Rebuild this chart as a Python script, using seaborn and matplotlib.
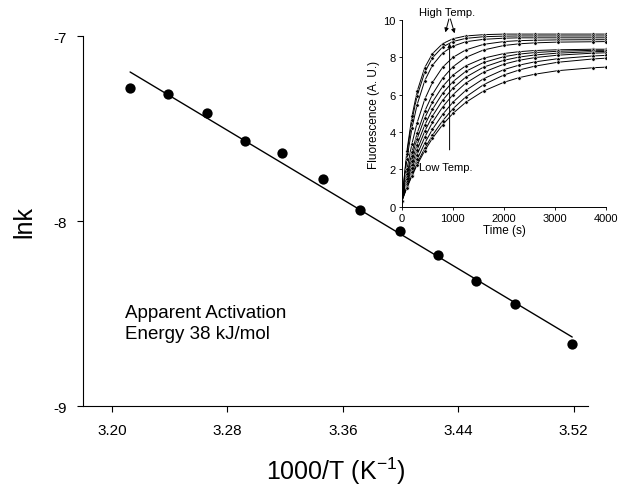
import numpy as np
import pandas as pd
import matplotlib
matplotlib.use("Agg")
import matplotlib.pyplot as plt
import seaborn as sns

# Arrhenius points
inv_T = [3.2125, 3.2388, 3.2658, 3.292, 3.318, 3.346, 3.372, 3.3995, 3.4258, 3.452, 3.479, 3.519]
lnk = [-7.281, -7.314, -7.416, -7.568, -7.632, -7.773, -7.941, -8.054, -8.184, -8.324, -8.449, -8.665]

# fluorescence traces in the inset (one list per temperature, high -> low)
times = [0, 100, 200, 300, 450, 600, 800, 1000, 1250, 1600, 2000, 2300, 2600, 3050, 3750, 4000]
traces = [
    [0.3, 2.99, 4.86, 6.18, 7.46, 8.20, 8.74, 9.00, 9.15, 9.22, 9.25, 9.25, 9.25, 9.25, 9.25, 9.25],
    [0.3, 2.84, 4.65, 5.94, 7.21, 7.98, 8.56, 8.85, 9.02, 9.11, 9.14, 9.15, 9.15, 9.15, 9.15, 9.15],
    [0.3, 2.56, 4.23, 5.47, 6.76, 7.58, 8.24, 8.60, 8.84, 8.97, 9.03, 9.05, 9.05, 9.05, 9.05, 9.05],
    [0.3, 2.01, 3.39, 4.50, 5.76, 6.66, 7.48, 8.00, 8.40, 8.70, 8.85, 8.90, 8.92, 8.94, 8.95, 8.95],
    [0.3, 1.74, 2.94, 3.93, 5.12, 6.02, 6.89, 7.50, 8.00, 8.40, 8.64, 8.73, 8.78, 8.82, 8.84, 8.85],
    [0.3, 1.61, 2.72, 3.64, 4.76, 5.61, 6.45, 7.05, 7.55, 7.96, 8.21, 8.31, 8.37, 8.41, 8.44, 8.44],
    [0.3, 1.47, 2.47, 3.33, 4.38, 5.22, 6.08, 6.70, 7.25, 7.73, 8.04, 8.18, 8.26, 8.33, 8.38, 8.38],
    [0.3, 1.35, 2.26, 3.05, 4.05, 4.86, 5.71, 6.35, 6.94, 7.48, 7.85, 8.02, 8.13, 8.23, 8.31, 8.32],
    [0.3, 1.24, 2.07, 2.80, 3.73, 4.52, 5.35, 6.00, 6.62, 7.21, 7.64, 7.85, 7.99, 8.12, 8.23, 8.25],
    [0.3, 1.13, 1.87, 2.54, 3.41, 4.15, 4.95, 5.60, 6.23, 6.86, 7.35, 7.59, 7.76, 7.93, 8.08, 8.11],
    [0.3, 1.05, 1.72, 2.34, 3.14, 3.83, 4.61, 5.25, 5.88, 6.54, 7.06, 7.33, 7.53, 7.74, 7.92, 7.96],
    [0.3, 1.02, 1.66, 2.24, 3.01, 3.67, 4.40, 5.00, 5.59, 6.20, 6.67, 6.92, 7.10, 7.29, 7.45, 7.48],
]

sns.set_style("ticks")
plt.rcParams['font.family'] = ['Liberation Sans', 'DejaVu Sans']
plt.rcParams['mathtext.default'] = 'regular'
for k in ['text.color', 'axes.labelcolor', 'xtick.color', 'ytick.color', 'axes.edgecolor']:
    plt.rcParams[k] = 'black'

fig = plt.figure(figsize=(6.21, 5.02), dpi=100)
ax = fig.add_axes([0.134, 0.189, 0.813, 0.737])

df = pd.DataFrame({'x': inv_T, 'y': lnk})
sns.regplot(data=df, x='x', y='y', ax=ax, ci=None, color='black',
            scatter_kws={'s': 55, 'linewidths': 0, 'alpha': 1},
            line_kws={'lw': 1.0})

ax.set_xlim(3.18, 3.53)
ax.set_ylim(-9, -7)
ax.set_xticks([3.20, 3.28, 3.36, 3.44, 3.52])
ax.set_xticklabels(['3.20', '3.28', '3.36', '3.44', '3.52'])
ax.set_yticks([-9, -8, -7])
ax.set_yticklabels(['-9', '-8', '-7'])
ax.tick_params(labelsize=11, length=4, width=0.8, direction='out', pad=8)
for s in ['top', 'right']:
    ax.spines[s].set_visible(False)
ax.set_xlabel('1000/T (K$^{-1}$)', fontsize=18, labelpad=13)
ax.set_ylabel('lnk', fontsize=18, labelpad=12)
ax.text(3.209, -8.45, 'Apparent Activation\nEnergy 38 kJ/mol', fontsize=13.5,
        va='top', ha='left', linespacing=1.3)

# inset
ins = fig.add_axes([0.647, 0.586, 0.329, 0.372])
rows = []
for i, tr in enumerate(traces):
    for t, v in zip(times, tr):
        rows.append({'time': t, 'F': v, 'curve': i})
tdf = pd.DataFrame(rows)
sns.lineplot(data=tdf, x='time', y='F', units='curve', estimator=None,
             color='black', lw=0.7, marker='o', markersize=2.5,
             markeredgewidth=0.4, ax=ins)
ins.set_xlim(0, 4000)
ins.set_ylim(0, 10)
ins.set_xticks([0, 1000, 2000, 3000, 4000])
ins.set_yticks([0, 2, 4, 6, 8, 10])
ins.tick_params(labelsize=8, length=2.5, width=0.6, pad=2)
for s in ['top', 'right']:
    ins.spines[s].set_visible(False)
for s in ['left', 'bottom']:
    ins.spines[s].set_linewidth(0.7)
ins.set_xlabel('Time (s)', fontsize=8.5, labelpad=1)
ins.set_ylabel('Fluorescence (A. U.)', fontsize=8.5, labelpad=2)
ins.patch.set_alpha(0)

ins.text(330, 10.45, 'High Temp.', fontsize=8, va='center', ha='left')
ins.annotate('', xy=(840, 9.2), xytext=(936, 10.2),
             arrowprops=dict(arrowstyle='-|>', color='black', lw=0.7, mutation_scale=6),
             annotation_clip=False)
ins.annotate('', xy=(1050, 9.15), xytext=(936, 10.2),
             arrowprops=dict(arrowstyle='-|>', color='black', lw=0.7, mutation_scale=6),
             annotation_clip=False)
ins.text(330, 2.15, 'Low Temp.', fontsize=8, va='center', ha='left')
ins.annotate('', xy=(936, 8.9), xytext=(936, 2.9),
             arrowprops=dict(arrowstyle='-|>', color='black', lw=0.7, mutation_scale=6))

fig.savefig('out.png', dpi=100)
